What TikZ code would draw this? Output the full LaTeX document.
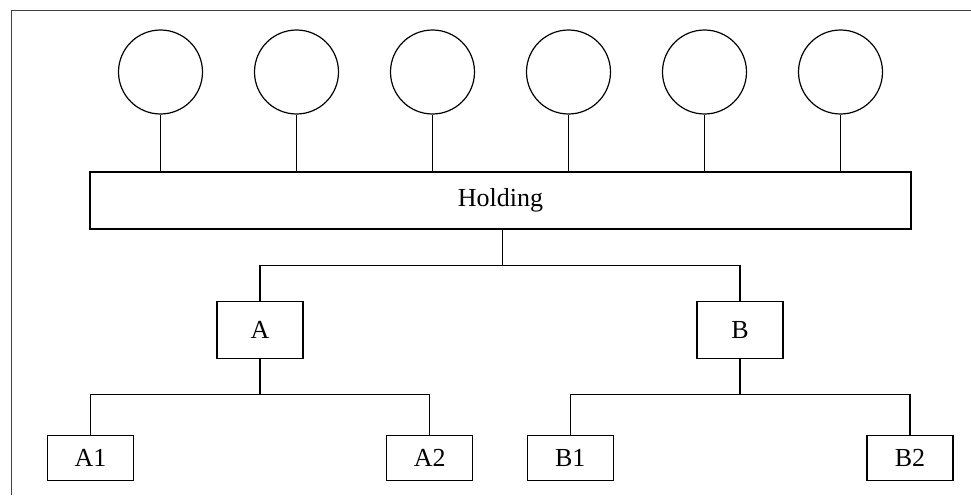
\documentclass[tikz,border=0pt]{standalone}
\usepackage{fontspec}
\setmainfont{Liberation Serif}
\usepackage{tikz}
\usetikzlibrary{positioning,calc}
\tikzstyle{owner}=[circle, draw, line width=1.2pt, minimum size=84pt, inner sep=0pt]
\tikzstyle{company}=[rectangle, draw, line width=1.2pt, minimum width=86pt, minimum height=57pt, inner sep=0pt, font=\fontsize{26}{30}\selectfont]
\tikzstyle{leaf}=[company, minimum height=45pt]
\tikzstyle{link}=[line width=1.2pt]
\begin{document}
\begin{tikzpicture}[x=1pt,y=-1pt]
  \useasboundingbox (0,0) rectangle (971,495);
  % frame
  \draw[black!75, line width=1.6pt] (11.5,495) |- (971,10.5);

  \node[company, minimum width=821pt] (hold) at (500.5,200.5) {Holding};

  % shareholders
  \foreach \i in {0,...,5}{
    \node[owner] (c\i) at ({160.5+136*\i},72) {};
    \draw[link] (c\i.south) -- (c\i.south |- hold.north);
  }

  \node[company] (A) at (260,330.3) {A};
  \node[company] (B) at (740,330.3) {B};
  \coordinate (hj) at ([xshift=2pt]hold.south |- 0,265.5);
  \draw[link] ([xshift=2pt]hold.south) -- (hj);
  \draw[link] (A.north) |- (hj) -| (B.north);

  \node[leaf] (A1) at (90.5,458) {A1};
  \node[leaf] (A2) at (429.8,458) {A2};
  \node[leaf] (B1) at (570.3,458) {B1};
  \node[leaf] (B2) at (910,458) {B2};

  \coordinate (aj) at (A.south |- 0,394.3);
  \coordinate (bj) at (B.south |- 0,394.3);
  \draw[link] (A.south) -- (aj);
  \draw[link] (A1.north) |- (aj) -| (A2.north);
  \draw[link] (B.south) -- (bj);
  \draw[link] (B1.north) |- (bj) -| (B2.north);
\end{tikzpicture}
\end{document}
